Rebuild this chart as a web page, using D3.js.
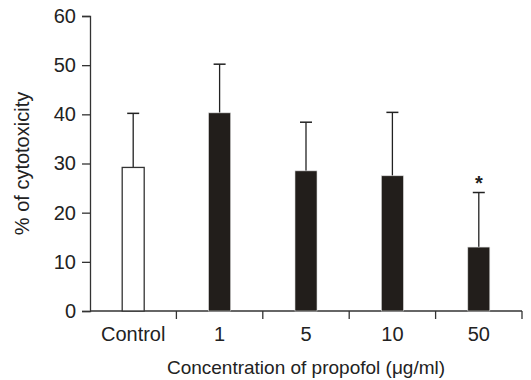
<!DOCTYPE html>
<html>
<head>
<meta charset="utf-8">
<script src="https://cdn.jsdelivr.net/npm/d3@7"></script>
<style>
  body { margin: 0; background: #fff; }
  svg { display: block; font-family: "Liberation Sans", Arial, sans-serif; }
</style>
</head>
<body>
<div id="chart"></div>
<script>
const categories = ["Control", "1", "5", "10", "50"];
const means = [29.2, 40.3, 28.5, 27.5, 13.0];
const errors = [11.0, 9.9, 9.9, 12.9, 11.1];
const significant = [false, false, false, false, true];
const yTicks = [0, 10, 20, 30, 40, 50, 60];

const width = 531, height = 380;
const margin = { top: 16, right: 9, bottom: 69, left: 90 };

const svg = d3.select("#chart").append("svg")
  .attr("width", width)
  .attr("height", height);

const x = d3.scaleBand()
  .domain(categories)
  .range([margin.left, width - margin.right]);

const y = d3.scaleLinear()
  .domain([0, 60])
  .range([height - margin.bottom, margin.top]);

const axisColor = "#333";
const barW = 22;

// y axis
const yAxis = svg.append("g")
  .attr("transform", `translate(${margin.left},0)`)
  .call(d3.axisLeft(y).tickValues(yTicks).tickSize(8).tickPadding(6));
yAxis.select(".domain").attr("stroke", axisColor).attr("stroke-width", 1.3);
yAxis.selectAll(".tick line").attr("stroke", axisColor).attr("stroke-width", 1.3);
yAxis.selectAll(".tick text")
  .attr("font-size", 20).attr("fill", "#222")
  .attr("font-family", "Liberation Sans, Arial, sans-serif");

// x axis: ticks at band boundaries
const xg = svg.append("g").attr("transform", `translate(0,${y(0)})`);
xg.append("line")
  .attr("x1", margin.left).attr("x2", width - margin.right)
  .attr("stroke", axisColor).attr("stroke-width", 1.3);
xg.selectAll("line.tk")
  .data(categories.slice(1).map(c => x(c)).concat([x.range()[1]]))
  .join("line")
  .attr("class", "tk")
  .attr("x1", d => d).attr("x2", d => d)
  .attr("y1", 0).attr("y2", 8)
  .attr("stroke", axisColor).attr("stroke-width", 1.3);
xg.selectAll("text")
  .data(categories)
  .join("text")
  .attr("x", d => x(d) + x.bandwidth() / 2)
  .attr("y", 30)
  .attr("text-anchor", "middle")
  .attr("font-size", 20)
  .attr("fill", "#222")
  .text(d => d);

// error bars (upper only)
const eg = svg.append("g");
categories.forEach((c, i) => {
  const cx = x(c) + x.bandwidth() / 2;
  eg.append("line")
    .attr("x1", cx).attr("x2", cx)
    .attr("y1", y(means[i])).attr("y2", y(means[i] + errors[i]))
    .attr("stroke", "#222").attr("stroke-width", 1.3);
  eg.append("line")
    .attr("x1", cx - 6).attr("x2", cx + 6)
    .attr("y1", y(means[i] + errors[i])).attr("y2", y(means[i] + errors[i]))
    .attr("stroke", "#222").attr("stroke-width", 1.5);
  if (significant[i]) {
    eg.append("text")
      .attr("x", cx).attr("y", y(means[i] + errors[i]) - 3)
      .attr("text-anchor", "middle")
      .attr("font-size", 20)
      .attr("font-weight", "bold")
      .attr("fill", "#222")
      .text("*");
  }
});

// bars
svg.append("g").selectAll("rect")
  .data(categories)
  .join("rect")
  .attr("x", d => x(d) + x.bandwidth() / 2 - barW / 2)
  .attr("width", barW)
  .attr("y", (d, i) => y(means[i]))
  .attr("height", (d, i) => y(0) - y(means[i]))
  .attr("fill", (d, i) => i === 0 ? "#fff" : "#221e1b")
  .attr("stroke", (d, i) => i === 0 ? "#333" : "#d8d8d8")
  .attr("stroke-width", (d, i) => i === 0 ? 1.3 : 0.6);

// axis titles
svg.append("text")
  .attr("transform", `translate(29,${(y(0) + y(60)) / 2}) rotate(-90)`)
  .attr("text-anchor", "middle")
  .attr("font-size", 20)
  .attr("fill", "#222")
  .text("% of cytotoxicity");

svg.append("text")
  .attr("x", 306)
  .attr("y", 374)
  .attr("text-anchor", "middle")
  .attr("font-size", 19)
  .attr("fill", "#222")
  .text("Concentration of propofol (\u03bcg/ml)");
</script>
</body>
</html>
